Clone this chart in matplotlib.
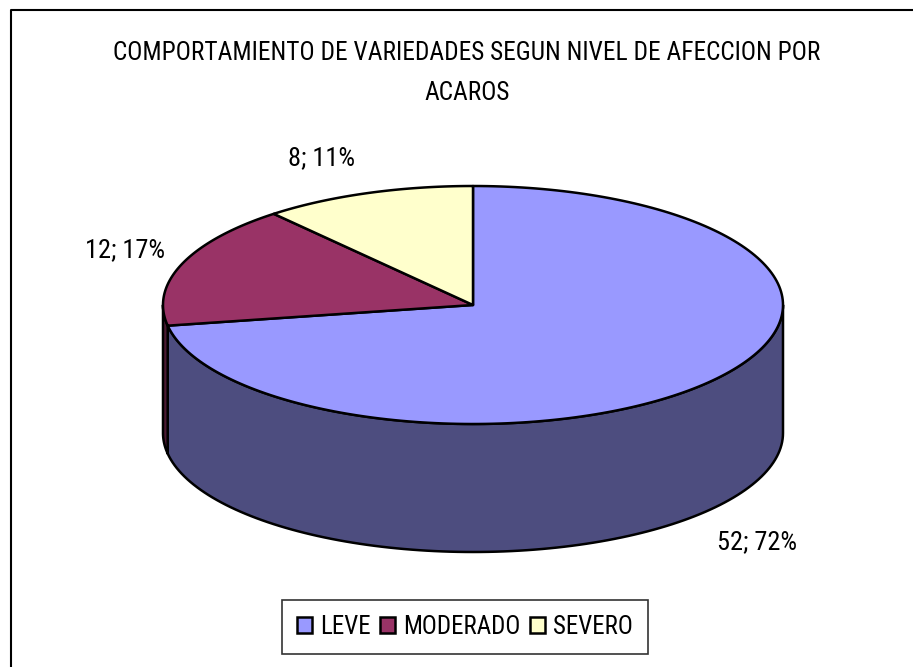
import numpy as np
import matplotlib
matplotlib.use("Agg")
import matplotlib.pyplot as plt
from matplotlib.patches import Polygon, Patch
from matplotlib import font_manager

categories = ["LEVE", "MODERADO", "SEVERO"]
values = [52, 12, 8]
top_colors = ["#9999FF", "#993366", "#FFFFCC"]
side_colors = ["#4D4D7F", "#4C1A33", "#80805F"]
title = "COMPORTAMIENTO DE VARIEDADES SEGUN NIVEL DE AFECCION POR\nACAROS"

avail = {f.name for f in font_manager.fontManager.ttflist}
fam = "Liberation Sans"
for cand in ["Liberation Sans Narrow", "Arial Narrow", "Roboto Condensed", "PT Sans Narrow", "Archivo Narrow"]:
    if cand in avail:
        fam = cand
        break
narrow = fam != "Liberation Sans"

W, H = 913, 667
fig = plt.figure(figsize=(W / 100, H / 100), dpi=100)
ax = fig.add_axes([0, 0, 1, 1])
ax.set_xlim(0, W)
ax.set_ylim(H, 0)
ax.axis("off")

# frame of chart area
ax.plot([10.5, 10.5, W], [H, 9.5, 9.5], color="black", lw=1.5, zorder=1)

cx, cy, rx, ry, depth = 473, 305, 310, 119, 128

def pt(theta, dy=0.0):
    t = np.deg2rad(theta)
    return cx + rx * np.cos(t), cy - ry * np.sin(t) + dy

total = sum(values)
fracs = [v / total for v in values]
start = 90.0
ranges = []
for f in fracs:
    end = start - 360 * f
    ranges.append((end, start))
    start = end

lw = 1.8
for (a, b), sc in zip(ranges, side_colors):
    for shift in (0, -360, 360):
        lo, hi = max(a + shift, -180), min(b + shift, 0)
        if hi > lo:
            th = np.linspace(lo, hi, 120)
            topx, topy = pt(th)
            botx, boty = pt(th[::-1], depth)
            poly = np.column_stack([np.r_[topx, botx], np.r_[topy, boty]])
            ax.add_patch(Polygon(poly, closed=True, facecolor=sc, edgecolor="black", lw=lw, joinstyle="round", zorder=2))

for (a, b), tc in zip(ranges, top_colors):
    th = np.linspace(a, b, 200)
    xs, ys = pt(th)
    poly = np.column_stack([np.r_[cx, xs], np.r_[cy, ys]])
    ax.add_patch(Polygon(poly, closed=True, facecolor=tc, edgecolor="black", lw=lw, joinstyle="round", zorder=3))

title_fs = 18.3 if narrow else 15
lab_fs = 19 if narrow else 15
leg_fs = 18 if narrow else 14

label_pos = [(757, 542), (125, 250), (322, 158)]
for v, f, (lx, ly) in zip(values, fracs, label_pos):
    ax.text(lx, ly, f"{v}; {round(f * 100)}%", ha="center", va="center",
            fontsize=lab_fs, family=fam, zorder=5)

ax.text(467, 73, title, ha="center", va="center", fontsize=title_fs, family=fam,
        linespacing=1.85, zorder=5)

handles = [Patch(facecolor=c, edgecolor="black", lw=1.8) for c in top_colors]
leg = ax.legend(handles, categories, loc="center", bbox_to_anchor=(465 / W, 1 - 627 / H),
                ncol=3, frameon=True, fancybox=False, edgecolor="black",
                prop={"family": fam, "size": leg_fs}, handlelength=0.6, handleheight=0.6,
                handletextpad=0.3, columnspacing=0.4, borderpad=0.6, borderaxespad=0)
leg.get_frame().set_linewidth(1.2)

fig.savefig("out.png", dpi=100, facecolor="white")
